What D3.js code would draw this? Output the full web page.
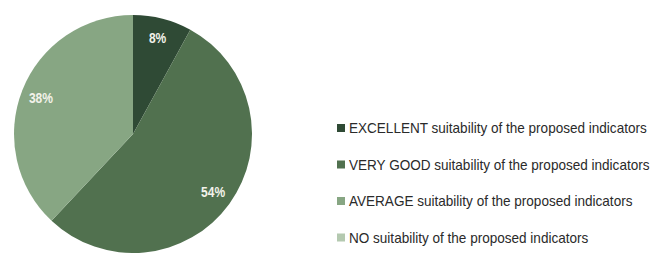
<!DOCTYPE html>
<html>
<head>
<meta charset="utf-8">
<script src="https://cdn.jsdelivr.net/npm/d3@7"></script>
<style>
  body { margin: 0; background: #fff; }
  svg { display: block; }
</style>
</head>
<body>
<div class="chart"></div>
<script>
const categories = ["EXCELLENT", "VERY GOOD", "AVERAGE", "NO"];
const values = [8, 54, 38, 0];
const colors = ["#2f4a35", "#51714f", "#87a683", "#b4c9b0"];

const width = 652, height = 253;
const cx = 133, cy = 134, radius = 119;

const svg = d3.select(".chart").append("svg")
  .attr("width", width).attr("height", height);

const data = categories.map((c, i) => ({ cat: c, value: values[i], color: colors[i] }));

const pie = d3.pie().value(d => d.value).sort(null);
const arc = d3.arc().innerRadius(0).outerRadius(radius);
const labelArc = d3.arc().innerRadius(99).outerRadius(99);

const g = svg.append("g").attr("transform", `translate(${cx},${cy})`);

g.selectAll("path")
  .data(pie(data))
  .enter()
  .append("path")
  .attr("d", arc)
  .attr("fill", d => d.data.color);

// percent labels, a bit condensed like the original
g.selectAll(".lbl")
  .data(pie(data).filter(d => d.data.value > 0))
  .enter()
  .append("text")
  .attr("class", "lbl")
  .attr("transform", d => `translate(${labelArc.centroid(d)}) scale(0.86,1)`)
  .attr("text-anchor", "middle")
  .attr("dy", "0.36em")
  .attr("fill", "#f2f2ea")
  .style("font-family", "'Liberation Sans', Arial, sans-serif")
  .style("font-weight", "bold")
  .style("font-size", "14px")
  .text(d => d.data.value + "%");

// legend
const y = d3.scalePoint().domain(categories).range([128, 237.5]);

const legend = svg.append("g").attr("class", "legend");

legend.selectAll("rect")
  .data(data)
  .enter()
  .append("rect")
  .attr("x", 337)
  .attr("y", d => y(d.cat) - 4)
  .attr("width", 8)
  .attr("height", 8)
  .attr("fill", d => d.color);

const txt = legend.selectAll("text")
  .data(data)
  .enter()
  .append("text")
  .attr("x", 349)
  .attr("y", d => y(d.cat))
  .attr("dy", "0.36em")
  .attr("fill", "#2a2a2a")
  .style("font-family", "'Liberation Sans', Arial, sans-serif")
  .style("font-size", "15px")
  .text(d => d.cat + " suitability of the proposed indicators");

// squeeze to the width seen in the picture (first line ends near x=647)
const w0 = txt.node().getComputedTextLength();
const k = 298 / w0;
txt.attr("transform", `translate(349,0) scale(${k},1) translate(-349,0)`);
</script>
</body>
</html>
